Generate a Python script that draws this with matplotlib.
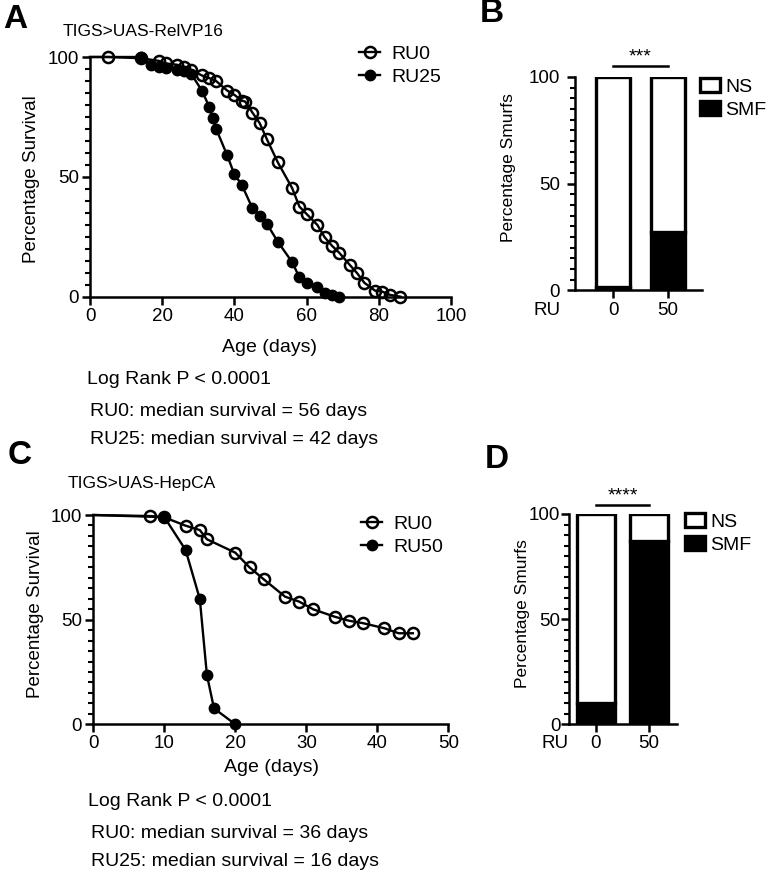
import matplotlib
matplotlib.use("Agg")
import matplotlib.pyplot as plt
from matplotlib.lines import Line2D
from matplotlib.patches import Patch
from matplotlib.ticker import MultipleLocator

plt.rcParams['font.family'] = ['Liberation Sans', 'DejaVu Sans']

# Panel A: TIGS>UAS-RelVP16 survival (day 0 point has no marker)
a_ru0_days = [0, 5, 14, 19, 21, 24, 26, 28, 31, 33, 35, 38, 40, 42, 43, 45, 47, 49, 52,
              56, 58, 60, 63, 65, 67, 69, 72, 74, 76, 79, 81, 83, 86]
a_ru0_surv = [100, 100, 99.5, 98.4, 97.3, 96.8, 95.9, 94.6, 92.3, 91.2, 89.9, 86.0, 84.2,
              81.8, 81.4, 76.8, 72.4, 65.7, 56.1, 45.3, 37.6, 34.5, 29.9, 24.8, 21.3,
              18.4, 13.2, 9.8, 5.8, 2.5, 2.1, 0.8, 0]
a_ru25_days = [0, 14, 17, 19, 21, 24, 26, 28, 31, 33, 34, 35, 38, 40, 42, 45, 47, 49, 52,
               56, 58, 60, 63, 65, 67, 69]
a_ru25_surv = [100, 100, 96.7, 96.0, 95.4, 94.7, 94.0, 93.0, 86.0, 79.3, 74.5, 69.8, 59.0,
               51.0, 46.8, 36.9, 33.8, 30.4, 23.0, 14.4, 8.1, 5.8, 4.2, 1.7, 0.7, 0]

# Panel C: TIGS>UAS-HepCA survival
c_ru0_days = [0, 8, 10, 13, 15, 16, 20, 22, 24, 27, 29, 31, 34, 36, 38, 41, 43, 45]
c_ru0_surv = [100, 99.5, 98.9, 94.9, 92.8, 88.4, 82.0, 75.0, 69.3, 61.0, 58.6, 54.9,
              51.4, 49.5, 48.3, 45.9, 43.5, 43.5]
c_ru50_days = [0, 10, 13, 15, 16, 17, 20]
c_ru50_surv = [100, 99, 83.3, 59.9, 23.6, 7.6, 0]

# Panels B and D: smurf proportions
ru_doses = ['0', '50']
b_smf = [1.5, 27.5]
d_smf = [10, 87]

fig = plt.figure(figsize=(7.8, 8.73), dpi=100)
W, H = 780, 873


def fax(x0, y0, x1, y1):
    # axes from pixel box (top-left origin)
    return fig.add_axes([x0 / W, 1 - y1 / H, (x1 - x0) / W, (y1 - y0) / H])


def fpos(x, y):
    return (x / W, 1 - y / H)


def style(ax, ypad=2):
    for s in ['top', 'right']:
        ax.spines[s].set_visible(False)
    for s in ['left', 'bottom']:
        ax.spines[s].set_linewidth(1.8)
    ax.tick_params(which='major', direction='out', length=6, width=1.8, labelsize=13.5,
                   pad=2)
    ax.tick_params(axis='y', which='major', pad=ypad)
    ax.tick_params(which='minor', direction='out', length=3.5, width=1.5)
    ax.yaxis.set_major_locator(MultipleLocator(50))
    ax.yaxis.set_minor_locator(MultipleLocator(5))


def survival(ax, days0, surv0, days1, surv1, xmax, xstep, lab1, leg_xy):
    # open circles are hollow, the line shows through them
    ax.plot(days0, surv0, '-', color='black', lw=1.7, marker='o', ms=8, mew=1.8,
            mfc='none', mec='black', markevery=slice(1, None), clip_on=False, zorder=3)
    ax.plot(days1, surv1, '-', color='black', lw=1.7, marker='o', ms=7.5,
            mfc='black', mec='black', markevery=slice(1, None), clip_on=False, zorder=4)
    ax.set_xlim(0, xmax)
    ax.set_ylim(0, 100)
    ax.xaxis.set_major_locator(MultipleLocator(xstep))
    style(ax)
    handles = [Line2D([], [], color='black', lw=1.7, marker='o', ms=8, mew=1.8,
                      mfc='none', mec='black'),
               Line2D([], [], color='black', lw=1.7, marker='o', ms=7.5, mfc='black')]
    ax.legend(handles, ['RU0', lab1], loc='upper left', bbox_to_anchor=fpos(*leg_xy),
              bbox_transform=fig.transFigure, frameon=False, fontsize=14,
              handlelength=1.1, handletextpad=0.55, labelspacing=0.3, borderpad=0,
              borderaxespad=0)


def smurf_bars(ax, smf, x0, x1, width, leg_xy, ypad):
    ns = [100 - v for v in smf]
    pos = range(len(ru_doses))
    ax.bar(pos, smf, width=width, color='black', edgecolor='black', lw=2.4, zorder=2)
    ax.bar(pos, ns, bottom=smf, width=width, color='white', edgecolor='black', lw=2.4,
           zorder=2)
    ax.set_xlim(x0, x1)
    ax.set_ylim(0, 100)
    ax.set_xticks(list(pos))
    ax.set_xticklabels(ru_doses)
    style(ax, ypad)
    handles = [Patch(facecolor='white', edgecolor='black', lw=2.4),
               Patch(facecolor='black', edgecolor='black', lw=2.4)]
    ax.legend(handles, ['NS', 'SMF'], loc='upper left', bbox_to_anchor=fpos(*leg_xy),
              bbox_transform=fig.transFigure, frameon=False, fontsize=14,
              handlelength=1.05, handleheight=0.7, handletextpad=0.25,
              labelspacing=0.3, borderpad=0, borderaxespad=0)


# ---- Panel A ----
axA = fax(90, 57, 451, 296.7)
survival(axA, a_ru0_days, a_ru0_surv, a_ru25_days, a_ru25_surv, 100, 20, 'RU25',
         (359, 45))
fig.text(*fpos(32, 179), 'Percentage Survival', rotation=90, ha='center',
         va='center', fontsize=13.5)
fig.text(*fpos(269, 348), 'Age (days)', ha='center', va='center', fontsize=14)
fig.text(*fpos(63, 31), 'TIGS>UAS-RelVP16', ha='left', va='center', fontsize=12.5)
fig.text(*fpos(87, 380), 'Log Rank P < 0.0001', ha='left', va='center', fontsize=14)
fig.text(*fpos(90, 411), 'RU0: median survival = 56 days', ha='left', va='center',
         fontsize=14)
fig.text(*fpos(90, 440), 'RU25: median survival = 42 days', ha='left', va='center',
         fontsize=14)

# ---- Panel C ----
axC = fax(93.3, 515, 448.3, 724.3)
survival(axC, c_ru0_days, c_ru0_surv, c_ru50_days, c_ru50_surv, 50, 10, 'RU50',
         (361, 515))
fig.text(*fpos(36, 614), 'Percentage Survival', rotation=90, ha='center',
         va='center', fontsize=13.5)
fig.text(*fpos(271, 768), 'Age (days)', ha='center', va='center', fontsize=14)
fig.text(*fpos(68, 483), 'TIGS>UAS-HepCA', ha='left', va='center', fontsize=12.5)
fig.text(*fpos(88, 802), 'Log Rank P < 0.0001', ha='left', va='center', fontsize=14)
fig.text(*fpos(91, 833), 'RU0: median survival = 36 days', ha='left', va='center',
         fontsize=14)
fig.text(*fpos(91, 862), 'RU25: median survival = 16 days', ha='left', va='center',
         fontsize=14)

# ---- Panel B ----
axB = fax(575, 77, 701.7, 290.5)
smurf_bars(axB, b_smf, -0.70, 1.62, 0.62, (700, 78), 5)
axB.plot([0, 1], [105, 105], color='black', lw=1.8, clip_on=False)
axB.text(0.5, 105.5, '***', ha='center', va='bottom', fontsize=14)
fig.text(*fpos(508, 168), 'Percentage Smurfs', rotation=90, ha='center',
         va='center', fontsize=12.5)
fig.text(*fpos(547, 310), 'RU', ha='center', va='center', fontsize=13.5)

# ---- Panel D ----
axD = fax(569.3, 514, 676.7, 724.3)
smurf_bars(axD, d_smf, -0.50, 1.52, 0.71, (685, 513), 0.5)
axD.plot([0, 1], [104.5, 104.5], color='black', lw=1.8, clip_on=False)
axD.text(0.5, 104.5, '****', ha='center', va='bottom', fontsize=14)
fig.text(*fpos(523, 614), 'Percentage Smurfs', rotation=90, ha='center',
         va='center', fontsize=12.5)
fig.text(*fpos(555, 743), 'RU', ha='center', va='center', fontsize=13.5)

# panel letters
for lab, x, y in [('A', 3, 20), ('B', 480, 14), ('C', 8, 455), ('D', 485, 460)]:
    fig.text(*fpos(x, y), lab, ha='left', va='center', fontsize=24, fontweight='bold')

fig.savefig('out.png', dpi=100)
